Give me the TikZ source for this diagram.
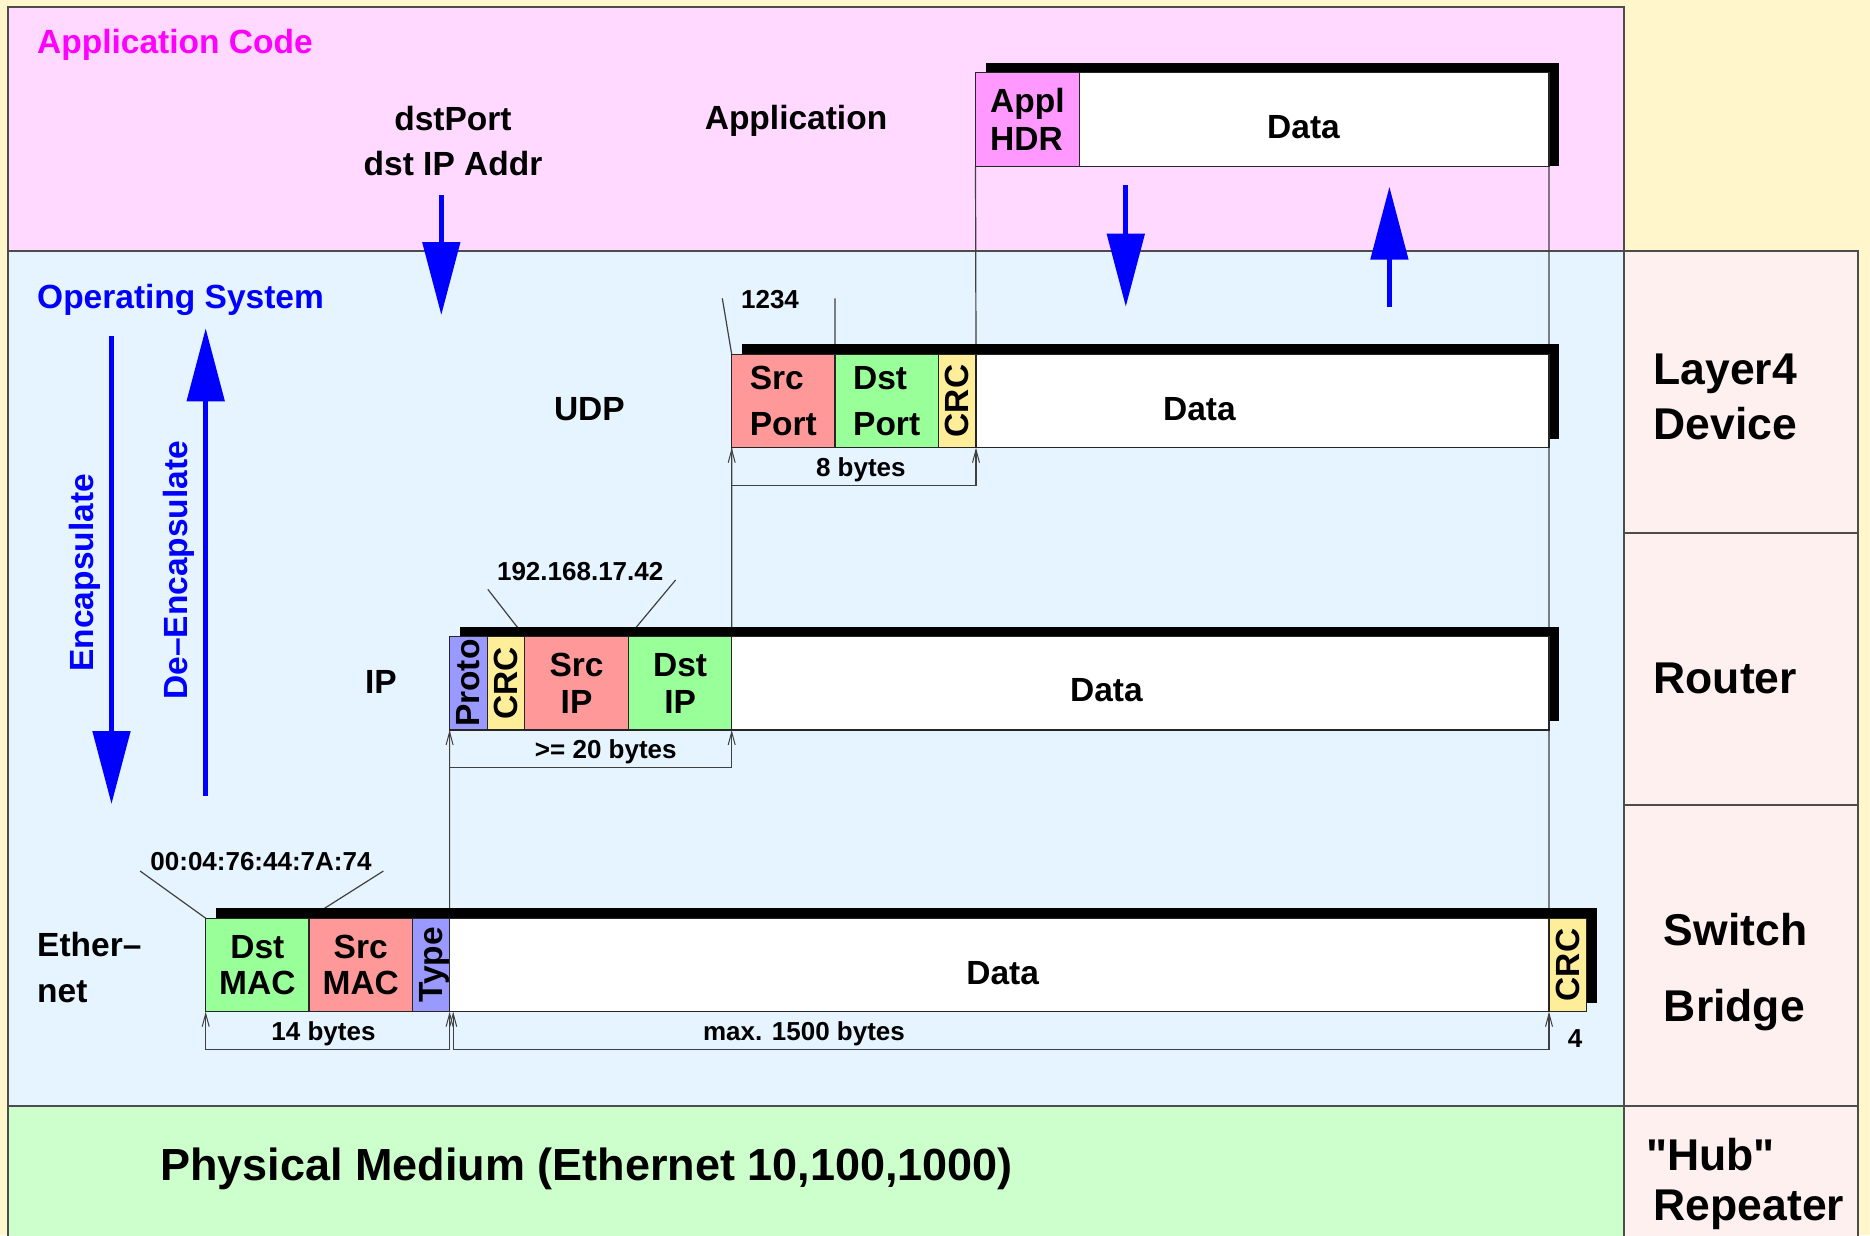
\documentclass[tikz,border=0pt]{standalone}
\usepackage{fontspec}
\usepackage{graphicx}
\setmainfont{Liberation Sans}
\newfontfamily\PlainSans{Liberation Sans}
\usetikzlibrary{arrows.meta}
\definecolor{bgyel}{HTML}{FFF6CC}
\definecolor{apppink}{HTML}{FFD9FF}
\definecolor{osblue}{HTML}{E5F4FF}
\definecolor{phygreen}{HTML}{CCFFCC}
\definecolor{devpink}{HTML}{FFF0F0}
\definecolor{fsalmon}{HTML}{FF9999}
\definecolor{fgreen}{HTML}{99FF99}
\definecolor{fyellow}{HTML}{FFEE99}
\definecolor{flav}{HTML}{9999FF}
\definecolor{fmag}{HTML}{FF99FF}
\definecolor{txtmag}{HTML}{FF00FF}
\definecolor{txtblue}{HTML}{0000FF}
\newcommand\FontSkip[2]{\bfseries\fontsize{#1}{#2}\selectfont}
\newcommand\FontMid{\bfseries\fontsize{33.5}{40}\selectfont}
\newcommand\FontSml{\bfseries\fontsize{26}{31}\selectfont}
\newcommand\FontBig{\bfseries\fontsize{44.5}{48}\selectfont}
\newcommand\NoDepth[1]{\raisebox{0pt}[\height][0pt]{#1}}
\pgfdeclarelayer{regions}
\pgfdeclarelayer{lines}
\pgfdeclarelayer{shadows}
\pgfsetlayers{regions,lines,shadows,main}
\begin{document}
\begin{tikzpicture}[x=1pt,y=-1pt,
  region/.style={draw=black!70, line width=1.5pt, anchor=north west, inner sep=0pt, outer sep=0pt},
  fld/.style={draw=black!85, line width=1.3pt, anchor=north west, inner sep=0pt, outer sep=0pt, minimum height=93.5pt, font=\FontMid},
  txt/.style={inner sep=0pt, font=\FontMid},
  sml/.style={inner sep=0pt, font=\FontSml, anchor=base},
  big/.style={inner sep=0pt, font=\FontBig, anchor=base west},
  conn/.style={draw=black!75, line width=1.2pt},
  dim/.style={draw=black!75, line width=1.2pt, {Straight Barb[length=13pt,width=7pt,line width=1pt]}-{Straight Barb[length=13pt,width=7pt,line width=1pt]}},
  barrow/.style={draw=txtblue, line width=5pt, -{Triangle[length=73pt,width=37pt]}}
]
\useasboundingbox (0,0) rectangle (1870,1235);
\clip (0,0) rectangle (1870,1235);

% ---------- regions ----------
\begin{pgfonlayer}{regions}
\fill[bgyel] (0,0) rectangle (1870,1235);
\node[region, fill=apppink, minimum width=1616pt, minimum height=244pt] (appReg) at (8,7) {};
\node[region, fill=osblue, minimum width=1616pt, minimum height=855pt] (osReg) at (8,251) {};
\node[region, fill=phygreen, minimum width=1616pt, minimum height=140pt] (phyReg) at (8,1106) {};
\node[region, fill=devpink, minimum width=234pt, minimum height=282pt] (l4Reg) at (1624,251) {};
\node[region, fill=devpink, minimum width=234pt, minimum height=272pt] (rtReg) at (1624,533) {};
\node[region, fill=devpink, minimum width=234pt, minimum height=301pt] (swReg) at (1624,805) {};
\node[region, fill=devpink, minimum width=234pt, minimum height=140pt] (hubReg) at (1624,1106) {};
\end{pgfonlayer}

% ---------- application row ----------
\node[fld, fill=fmag, minimum width=103.8pt, align=left, font={\FontSkip{33.5}{37.7}}] (appHdr) at (975.5,72.7) {Appl\\HDR};
\node[fld, fill=white, minimum width=469.7pt] (appData) at (appHdr.north east) {};
\node[txt, anchor=base] (appDataT) at (1303.5,138.3) {Data};

% ---------- UDP row ----------
\node[fld, fill=fsalmon, minimum width=103.3pt, align=left, font={\FontSkip{33.5}{46.7}}] (udpSrc) at (731.7,354.3) {Src\\Port};
\node[fld, fill=fgreen, minimum width=103.3pt, align=left, font={\FontSkip{33.5}{46.7}}] (udpDst) at (udpSrc.north east) {Dst\\Port};
\node[fld, fill=fyellow, minimum width=37.7pt] (udpCrc) at (udpDst.north east) {\rotatebox{90}{CRC}};
\node[fld, fill=white, minimum width=573pt] (udpData) at (udpCrc.north east) {};
\node[txt, anchor=base] (udpDataT) at (1199.4,420) {Data};

% ---------- IP row ----------
\node[fld, fill=flav, minimum width=38pt] (ipProto) at (449.6,636.5) {\rotatebox{90}{Proto}};
\node[fld, fill=fyellow, minimum width=37pt] (ipCrc) at (ipProto.north east) {\rotatebox{90}{CRC}};
\node[fld, fill=fsalmon, minimum width=103.9pt, align=center, font={\FontSkip{33.5}{36.7}}] (ipSrc) at (ipCrc.north east) {Src\\IP};
\node[fld, fill=fgreen, minimum width=103.2pt, align=center, font={\FontSkip{33.5}{36.7}}] (ipDst) at (ipSrc.north east) {Dst\\IP};
\node[fld, fill=white, minimum width=817.3pt] (ipData) at (ipDst.north east) {};
\node[txt, anchor=base] (ipDataT) at (1106.4,701.7) {Data};

% ---------- Ethernet row ----------
\node[fld, fill=fgreen, minimum width=103.2pt, align=center, font={\FontSkip{33.5}{36.3}}] (ethDmac) at (205.7,918.2) {Dst\\MAC};
\node[fld, fill=fsalmon, minimum width=103.7pt, align=center, font={\FontSkip{33.5}{36.3}}] (ethSmac) at (ethDmac.north east) {Src\\MAC};
\node[fld, fill=flav, minimum width=37pt] (ethType) at (ethSmac.north east) {\rotatebox{90}{\NoDepth{Type}}};
\node[fld, fill=white, minimum width=1099.4pt] (ethData) at (ethType.north east) {};
\node[fld, fill=fyellow, minimum width=37.5pt] (ethCrc) at (ethData.north east) {\rotatebox{90}{CRC}};
\node[txt, anchor=base] (ethDataT) at (1002.7,984) {Data};

% ---------- shadows ----------
\begin{pgfonlayer}{shadows}
\fill[black] ([shift={(10,-10)}]appHdr.north west) rectangle ([shift={(10,0)}]appData.south east);
\fill[black] ([shift={(10,-10)}]udpSrc.north west) rectangle ([shift={(10,-9)}]udpData.south east);
\fill[black] ([shift={(10,-10)}]ipProto.north west) rectangle ([shift={(10,-9)}]ipData.south east);
\fill[black] ([shift={(10,-10)}]ethDmac.north west) rectangle ([shift={(10,-9)}]ethCrc.south east);
\end{pgfonlayer}

% ---------- label texts ----------
\node[txt, anchor=base west, text=txtmag] (appCode) at (37,53.3) {Application Code};
\node[txt, anchor=base west, text=txtblue] (osLbl) at (37,308.3) {Operating System};
\node[txt, align=center, font={\FontSkip{33.5}{45}}] (dstLbl) at (453,140.6) {dstPort\\dst IP Addr};
\node[txt, anchor=base] (applLbl) at (796,129.3) {Application};
\node[txt, anchor=base] (udpLbl) at (589.4,420) {UDP};
\node[txt, anchor=base] (ipLbl) at (381,693.3) {IP};
\node[txt, anchor=west, align=left, font={\FontSkip{33.5}{46}}] (ethLbl) at (37,967.7) {Ether–\\net};
\node[txt, rotate=90, text depth=0pt, text=txtblue] (encLbl) at (81.4,572.8) {Encapsulate};
\node[txt, rotate=90, text depth=0pt, text=txtblue] (deencLbl) at (175.3,570.3) {De–Encapsulate};

\node[sml] (portNum) at (770,308.3) {1234};
\node[sml] (ipAddr) at (580.2,580) {192.168.17.42};
\node[sml] (macAddr) at (261,870.7) {00:04:76:44:7A:74};
\node[sml] (udpLen) at (860.8,476) {8 bytes};
\node[sml] (ipLen) at (605.8,758.3) {>= 20 bytes};
\node[sml] (ethLen) at (323.5,1040) {14 bytes};
\node[sml] (payLen) at (804,1040) {max. 1500 bytes};
\node[sml] (crcLen) at (1575,1047.7) {4};

\node[inner sep=0pt, anchor=base west, font={\FontSkip{45}{54}}] (phyLbl) at (159.8,1180) {Physical Medium (Ethernet 10,100,1000)};

\node[inner sep=0pt, anchor=west, align=left, font={\FontSkip{44.5}{54.4}}] (l4Lbl) at (1653.3,396.9) {Layer4\\Device};
\node[big] (rtLbl) at (1653.3,693.5) {Router};
\node[big] (swLbl) at (1663.7,945.7) {Switch};
\node[big] (brLbl) at (1663.7,1021.7) {Bridge};
\node[big] (hubLbl) at (1645.8,1170) {\PlainSans"Hub"};
\node[big] (repLbl) at (1653.6,1220) {Repeater};

% ---------- connector coordinates ----------
\coordinate (portA) at (722.3,298.3);
\coordinate (portB) at (835,298.3);
\coordinate (ipA) at (487.8,589.3);
\coordinate (ipB) at (675.6,580);
\coordinate (macA) at (140.1,871);
\coordinate (macB) at (383.4,871);

\begin{pgfonlayer}{lines}
\draw[conn] (appHdr.south west) -- (udpCrc.north east);
\draw[conn] (appData.south east) -- (ethData.north east);
\draw[conn] (udpSrc.south west) -- (ipDst.north east);
\draw[conn] (ipProto.south west) -- (ethType.north east);
\draw[conn] (portA) -- (udpSrc.north west);
\draw[conn] (portB) -- (udpSrc.north east);
\draw[conn] (ipA) -- (ipSrc.north west);
\draw[conn] (ipB) -- (ipSrc.north east);
\draw[conn] (macA) -- (ethDmac.north west);
\draw[conn] (macB) -- (ethDmac.north east);
\end{pgfonlayer}

% ---------- dimension lines ----------
\draw[dim] (udpSrc.south west) -- ++(0,37.9) -| (udpCrc.south east);
\draw[dim] (ipProto.south west) -- ++(0,37.5) -| (ipDst.south east);
\draw[dim] (ethDmac.south west) -- ++(0,37.6) -| (ethType.south east);
\draw[dim] ([xshift=3.6pt]ethData.south west) -- ++(0,37.6) -| (ethData.south east);

% ---------- blue arrows ----------
\coordinate (dstS) at (441.3,195);
\coordinate (dstE) at (441.3,315);
\coordinate (downS) at (1125.8,185);
\coordinate (downE) at (1125.8,306.7);
\coordinate (upS) at (1389.4,307.3);
\coordinate (upE) at (1389.4,186.7);
\coordinate (encS) at (111.5,336);
\coordinate (encE) at (111.5,804);
\coordinate (decS) at (205.7,795.7);
\coordinate (decE) at (205.7,328.3);
\draw[barrow] (dstS) -- (dstE);
\draw[barrow] (downS) -- (downE);
\draw[barrow] (upS) -- (upE);
\draw[barrow] (encS) -- (encE);
\draw[barrow] (decS) -- (decE);
\end{tikzpicture}
\end{document}
